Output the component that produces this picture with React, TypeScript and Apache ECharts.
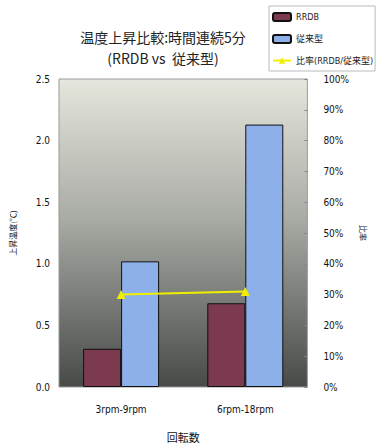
import React, { useEffect, useRef } from "react";
import * as echarts from "echarts";

const categories = ["3rpm-9rpm", "6rpm-18rpm"];
const rrdb = [0.31, 0.68];
const conventional = [1.02, 2.13];
const ratio = [30, 31];
const leftTicks = [0, 0.5, 1.0, 1.5, 2.0, 2.5];
const rightTicks = [0, 10, 20, 30, 40, 50, 60, 70, 80, 90, 100];

const FONT = "'DejaVu Sans Condensed', 'Noto Sans CJK JP', sans-serif";
const CJK = "'Noto Sans CJK JP', sans-serif";

export default function App() {
  const ref = useRef<HTMLDivElement>(null);
  useEffect(() => {
    const chart = echarts.init(ref.current!, null, { renderer: "svg" });
    chart.setOption({
      animation: false,
      backgroundColor: "#ffffff",
      graphic: [
        {
          type: "text",
          x: 163,
          y: 37,
          style: {
            text: "温度上昇比較:時間連続5分",
            font: "400 14px " + CJK,
            fill: "#222",
            textAlign: "center",
            textVerticalAlign: "middle",
          },
        },
        {
          type: "text",
          x: 163,
          y: 58,
          style: {
            text: "(RRDB vs  従来型)",
            font: "400 14px " + CJK,
            fill: "#222",
            textAlign: "center",
            textVerticalAlign: "middle",
          },
        },
      ],
      legend: {
        orient: "vertical",
        left: 269,
        top: 6,
        padding: [6, 2, 6, 3],
        itemGap: 12,
        itemWidth: 18,
        itemHeight: 8,
        borderColor: "#bbb",
        borderWidth: 1,
        backgroundColor: "#fff",
        textStyle: { fontFamily: FONT, fontSize: 9, color: "#222" },
        data: ["RRDB", "従来型", "比率(RRDB/従来型)"],
      },
      grid: {
        left: 54,
        right: 59,
        top: 79,
        bottom: 59,
        show: true,
        borderColor: "#9a9a9a",
        borderWidth: 1,
        backgroundColor: new echarts.graphic.LinearGradient(0, 0, 0, 1, [
          { offset: 0, color: "#e5e7dd" },
          { offset: 0.45, color: "#a9aba5" },
          { offset: 1, color: "#484a48" },
        ]),
      },
      xAxis: {
        type: "category",
        data: categories,
        axisLine: { show: false },
        axisTick: { show: false },
        axisLabel: { fontFamily: FONT, fontSize: 10, color: "#111", margin: 17 },
        name: "回転数",
        nameLocation: "middle",
        nameGap: 44,
        nameTextStyle: { fontFamily: CJK, fontSize: 11, color: "#111" },
      },
      yAxis: [
        {
          type: "value",
          min: 0,
          max: 2.5,
          interval: 0.5,
          axisLine: { show: false },
          axisTick: { show: false },
          splitLine: { show: false },
          axisLabel: {
            fontFamily: FONT,
            fontSize: 10,
            color: "#111",
            margin: 9,
            formatter: (v: number) => (leftTicks.includes(v) ? v.toFixed(1) : ""),
          },
          name: "上昇温度(℃)",
          nameLocation: "middle",
          nameRotate: 90,
          nameGap: 43,
          nameTextStyle: { fontFamily: CJK, fontSize: 8, color: "#111" },
        },
        {
          type: "value",
          min: 0,
          max: 100,
          interval: 10,
          axisLine: { show: false },
          axisTick: { show: true, inside: true, length: 3, lineStyle: { color: "#888" } },
          splitLine: { show: false },
          axisLabel: {
            fontFamily: FONT,
            fontSize: 10,
            color: "#111",
            margin: 16,
            formatter: (v: number) => (rightTicks.includes(v) ? v + "%" : ""),
          },
          name: "比率",
          nameLocation: "middle",
          nameRotate: -90,
          nameGap: 37,
          nameTextStyle: { fontFamily: CJK, fontSize: 8, color: "#111" },
        },
      ],
      series: [
        {
          name: "RRDB",
          type: "bar",
          data: rrdb,
          barWidth: 38,
          barGap: "0%",
          itemStyle: { color: "#7b3a50", borderColor: "#111", borderWidth: 1 },
        },
        {
          name: "従来型",
          type: "bar",
          data: conventional,
          barWidth: 38,
          itemStyle: { color: "#8db0ea", borderColor: "#111", borderWidth: 1 },
        },
        {
          name: "比率(RRDB/従来型)",
          type: "line",
          yAxisIndex: 1,
          data: ratio,
          symbol: "triangle",
          symbolSize: 9,
          lineStyle: { color: "#f2ee00", width: 2 },
          itemStyle: { color: "#f2ee00" },
        },
      ],
    });
    return () => chart.dispose();
  }, []);
  return <div ref={ref} style={{ width: 376, height: 447, position: "absolute", left: 0, top: 0 }} />;
}
